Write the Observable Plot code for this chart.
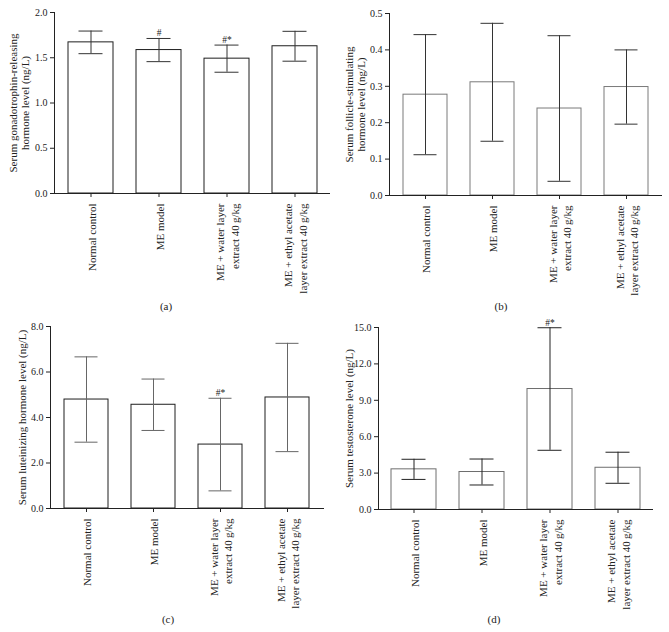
<!DOCTYPE html>
<html>
<head>
<meta charset="utf-8">
<script src="https://cdn.jsdelivr.net/npm/d3@7"></script>
<script src="https://cdn.jsdelivr.net/npm/@observablehq/plot@0.6"></script>
<style>
  html, body { margin: 0; padding: 0; background: #fff; }
  #fig { position: relative; width: 669px; height: 632px; background: #fff; font-family: "Liberation Serif", "DejaVu Serif", serif; color: #222; }
  .panel { position: absolute; }
  .cap { position: absolute; width: 40px; text-align: center; font-size: 11px; line-height: 14px; }
</style>
</head>
<body>
<div id="fig"></div>
<script>
// ---- data ----
const groups = [
  "Normal control",
  "ME model",
  "ME + water layer\nextract 40\u2009g/kg",
  "ME + ethyl acetate\nlayer extract 40\u2009g/kg"
];
const gnrhMean = [1.67, 1.585, 1.49, 1.627];
const gnrhSD   = [0.125, 0.128, 0.15, 0.165];
const gnrhSig  = ["", "#", "#*", ""];

const fshMean = [0.277, 0.311, 0.239, 0.298];
const fshSD   = [0.165, 0.162, 0.20, 0.102];
const fshSig  = ["", "", "", ""];

const lhMean = [4.79, 4.56, 2.81, 4.88];
const lhSD   = [1.875, 1.13, 2.035, 2.38];
const lhSig  = ["", "", "#*", ""];

const tMean = [3.31, 3.09, 9.93, 3.44];
const tSD   = [0.83, 1.07, 5.05, 1.28];
const tSig  = ["", "", "#*", ""];

const gnrhTicks = [0, 0.5, 1.0, 1.5, 2.0];
const fshTicks  = [0, 0.1, 0.2, 0.3, 0.4, 0.5];
const lhTicks   = [0, 2, 4, 6, 8];
const tTicks    = [0, 3, 6, 9, 12, 15];

const gnrhLabel = "Serum gonadotrophin-releasing\nhormone level (ng/L)";
const fshLabel  = "Serum follicle-stimulating\nhormone level (ng/L)";
const lhLabel   = "Serum luteinizing hormone level (ng/L)";
const tLabel    = "Serum testosterone level (ng/L)";

const captions = ["(a)", "(b)", "(c)", "(d)"];

// ---- build ----
function rows(mean, sd, sig) {
  return groups.map((g, i) => ({g, mean: mean[i], sd: sd[i], sig: sig[i]}));
}

const panels = [
  {data: rows(gnrhMean, gnrhSD, gnrhSig), ticks: gnrhTicks, label: gnrhLabel, left: 0, top: 0,
   mL: 54, mR: 4, mT: 12, mB: 107, labDx: -35, barStroke: "#1e1e1e", errStroke: "#333", cap: captions[0], capX: 166, capY: 299},
  {data: rows(fshMean, fshSD, fshSig), ticks: fshTicks, label: fshLabel, left: 335, top: 0,
   mL: 54, mR: 7, mT: 13, mB: 105, labDx: -34.5, barStroke: "#7a7a7a", errStroke: "#333", cap: captions[1], capX: 501, capY: 299},
  {data: rows(lhMean, lhSD, lhSig), ticks: lhTicks, label: lhLabel, left: 0, top: 312,
   mL: 50, mR: 10, mT: 14, mB: 104, labDx: -28, barStroke: "#1e1e1e", errStroke: "#666", cap: captions[2], capX: 168, capY: 612},
  {data: rows(tMean, tSD, tSig), ticks: tTicks, label: tLabel, left: 335, top: 312,
   mL: 43, mR: 16, mT: 15, mB: 103, labDx: -29, barStroke: "#6e6e6e", errStroke: "#222", cap: captions[3], capX: 494, capY: 612}
];

const fig = document.getElementById("fig");

for (const p of panels) {
  const ymax = p.ticks[p.ticks.length - 1];
  const chart = Plot.plot({
    width: 334,
    height: 300,
    marginLeft: p.mL,
    marginRight: p.mR,
    marginTop: p.mT,
    marginBottom: p.mB,
    style: {fontFamily: "'Liberation Serif', 'DejaVu Serif', serif", fontSize: "11px", color: "#222", background: "transparent"},
    x: {domain: groups, paddingInner: 0.34, paddingOuter: 0.185, label: null},
    y: {domain: [0, ymax], label: null},
    marks: [
      Plot.barY(p.data, {x: "g", y: "mean", fill: "white", stroke: p.barStroke, strokeWidth: 1}),
      Plot.ruleX(p.data, {x: "g", y1: d => d.mean - d.sd, y2: d => d.mean + d.sd, stroke: p.errStroke, strokeWidth: 1}),
      Plot.tickY(p.data, {x: "g", y: d => d.mean + d.sd, stroke: p.errStroke, strokeWidth: 1, insetLeft: 10.5, insetRight: 10.5}),
      Plot.tickY(p.data, {x: "g", y: d => d.mean - d.sd, stroke: p.errStroke, strokeWidth: 1, insetLeft: 10.5, insetRight: 10.5}),
      Plot.text(p.data, {x: "g", y: d => d.mean + d.sd, text: "sig", dy: -2, lineAnchor: "bottom", fontSize: 9.5, fill: "#222"}),
      Plot.ruleY([0], {stroke: "#222", strokeWidth: 1}),
      Plot.frame({anchor: "left", stroke: "#222", strokeWidth: 1}),
      Plot.axisY({ticks: p.ticks, tickFormat: d3.format(".1f"), tickSize: 4, tickPadding: 3, fontSize: 10, label: null, stroke: "#222"}),
      Plot.axisX({tickSize: 4, tickFormat: () => "", label: null, stroke: "#222"}),
      Plot.text(groups, {x: d => d, text: d => d, frameAnchor: "bottom", dy: 10, rotate: -90, textAnchor: "end", lineAnchor: "middle", lineHeight: 1.3, fontSize: 11, fill: "#222"}),
      Plot.text([p.label], {text: d => d, frameAnchor: "left", dx: p.labDx, rotate: -90, textAnchor: "middle", lineAnchor: "middle", lineHeight: 1.1, fontSize: 11, fill: "#222"})
    ]
  });
  const wrap = document.createElement("div");
  wrap.className = "panel";
  wrap.style.left = p.left + "px";
  wrap.style.top = p.top + "px";
  wrap.appendChild(chart);
  fig.appendChild(wrap);

  const cap = document.createElement("div");
  cap.className = "cap";
  cap.textContent = p.cap;
  cap.style.left = (p.capX - 20) + "px";
  cap.style.top = p.capY + "px";
  fig.appendChild(cap);
}
</script>
</body>
</html>
